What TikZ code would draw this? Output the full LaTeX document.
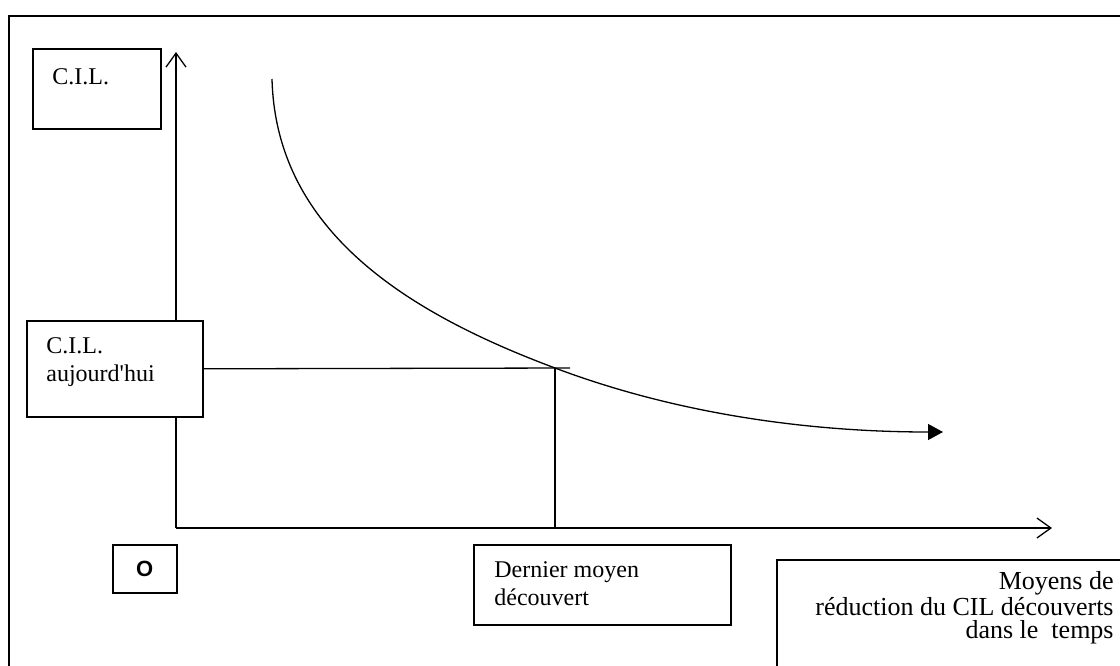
\documentclass[tikz,border=0pt]{standalone}
\usepackage{fontspec}
\setmainfont{Liberation Serif}[Ligatures=TeXOff]
\newfontfamily\labelsans{Liberation Sans}
\usetikzlibrary{arrows.meta}

\begin{document}
\begin{tikzpicture}[x=0.5pt, y=-0.5pt,
  pbox/.style={rectangle, draw, line width=0.8pt, fill=white, inner sep=0pt, anchor=north west},
  lbl/.style={inner sep=0pt, font=\fontsize{12}{14}\selectfont, align=left},
  axis/.style={line width=0.65pt, -{Straight Barb[length=7pt, width=10pt]}},
  courbe/.style={line width=0.65pt, -{Triangle[length=7.5pt, width=8pt]}}
]
\useasboundingbox (0,0) rectangle (1120,665);
\clip (0,0) rectangle (1120,665);
% Outer frame
\draw[line width=1pt] (9,16) rectangle (1140,690);

% Axes
\coordinate (orig) at (176,528);
\coordinate (ytop) at (176,52);
\coordinate (xend) at (1052,528);
\draw[axis] (orig) -- (ytop);
\draw[axis] (orig) -- (xend);

% Curve
\coordinate (cstart) at (272,79);
\coordinate (meet)   at (555,368);
\coordinate (cend)   at (943,432);
\draw[courbe] (cstart) .. controls (276,230) and (405,312) .. (meet)
  .. controls (685,417) and (820,432) .. (cend);

% Boxes
\node[pbox, minimum width=64pt, minimum height=40pt] (cilbox) at (32,48) {};
\node[pbox, minimum width=88pt, minimum height=48pt] (nowbox) at (26,320) {};
\node[pbox, minimum width=32pt, minimum height=24pt] (obox) at (112,544) {};
\node[pbox, minimum width=128.5pt, minimum height=40pt] (lastbox) at (473,544) {};
\node[pbox, minimum width=200pt, minimum height=100pt] (timebox) at (776,559) {};

% Guide lines
\coordinate (hend) at (570,368);
\draw[line width=0.65pt] (nowbox.east) -- (hend);
\draw[line width=0.65pt] (meet) -- (meet |- orig);

% Labels (base = last line)
\node[lbl, anchor=base west] (cil) at (52,84) {C.I.L.};
\node[lbl, anchor=base west] (now) at (46,381) {C.I.L.\\aujourd'hui};
\node[font=\labelsans\bfseries\fontsize{11}{13}\selectfont, inner sep=0pt] (olbl) at (obox.center) {O};
\node[lbl, anchor=base west] (last) at (494,605) {Dernier moyen\\découvert};
\node[lbl, align=right, anchor=base east, font=\fontsize{13}{11.5}\selectfont] (time) at (1114,638)
  {Moyens de\\réduction du CIL découverts\\dans le\ \ temps};
\end{tikzpicture}
\end{document}
